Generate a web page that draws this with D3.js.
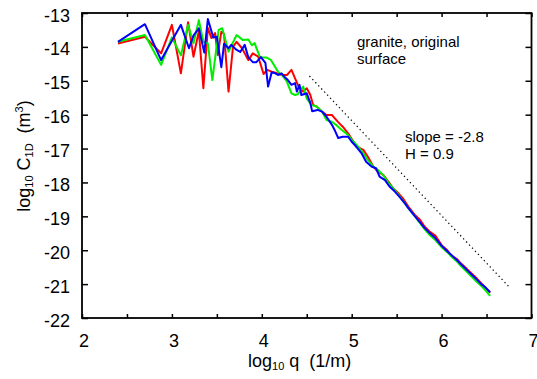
<!DOCTYPE html>
<html><head><meta charset="utf-8">
<script src="https://cdn.jsdelivr.net/npm/d3@7"></script>
<style>body{margin:0;background:#fff}svg{display:block;font-family:"Liberation Sans",Arial,sans-serif}text{white-space:pre}</style>
</head><body><svg id="c" width="537" height="379"></svg>
<script>
const xTicks = [2, 3, 4, 5, 6, 7];
const xMinorTicks = [2.5, 3.5, 4.5, 5.5, 6.5];
const yTicks = [-13, -14, -15, -16, -17, -18, -19, -20, -21, -22];

const red = [[2.40,-13.90],[2.70,-13.70],[2.88,-14.19],[3.00,-13.35],[3.10,-14.78],[3.18,-13.27],[3.24,-14.29],[3.30,-13.53],[3.35,-15.22],[3.40,-13.44],[3.44,-13.74],[3.48,-13.59],[3.51,-14.24],[3.55,-13.55],[3.58,-13.62],[3.60,-14.30],[3.63,-15.32],[3.68,-13.99],[3.72,-13.85],[3.78,-14.04],[3.85,-14.39],[3.90,-14.19],[3.96,-14.29],[4.02,-14.80],[4.06,-14.68],[4.11,-14.73],[4.17,-14.78],[4.22,-14.83],[4.28,-14.83],[4.33,-14.68],[4.37,-14.93],[4.41,-15.17],[4.46,-15.32],[4.50,-15.22],[4.54,-15.42],[4.57,-15.71],[4.61,-15.76],[4.67,-15.91],[4.72,-16.01],[4.78,-16.01],[4.81,-16.10],[4.85,-16.22],[4.89,-16.33],[4.90,-16.35],[4.96,-16.55],[5.02,-16.80],[5.05,-16.94],[5.09,-16.99],[5.13,-17.04],[5.18,-17.24],[5.24,-17.53],[5.29,-17.68],[5.35,-17.78],[5.41,-17.98],[5.46,-18.17],[5.52,-18.32],[5.57,-18.47],[5.63,-18.71],[5.70,-18.95],[5.76,-19.10],[5.81,-19.30],[5.87,-19.46],[5.93,-19.57],[6.00,-19.85],[6.06,-19.99],[6.10,-20.14],[6.17,-20.26],[6.21,-20.38],[6.28,-20.55],[6.33,-20.68],[6.39,-20.83],[6.44,-20.97],[6.48,-21.08],[6.54,-21.25]];

const green = [[2.40,-13.85],[2.70,-13.65],[2.88,-14.53],[3.00,-13.72],[3.10,-14.25],[3.18,-13.35],[3.24,-13.89],[3.30,-13.21],[3.35,-13.85],[3.40,-13.90],[3.45,-14.98],[3.52,-13.50],[3.56,-13.45],[3.63,-14.14],[3.72,-13.65],[3.79,-13.80],[3.85,-13.78],[3.89,-13.95],[3.92,-13.89],[3.98,-14.31],[4.05,-14.31],[4.10,-14.38],[4.18,-14.73],[4.24,-14.88],[4.28,-15.03],[4.33,-15.37],[4.37,-15.42],[4.40,-15.40],[4.46,-15.17],[4.50,-15.52],[4.55,-15.71],[4.61,-15.76],[4.67,-15.91],[4.72,-16.16],[4.78,-16.21],[4.83,-16.31],[4.89,-16.45],[4.96,-16.60],[5.02,-16.80],[5.07,-16.94],[5.13,-17.14],[5.18,-17.34],[5.24,-17.53],[5.29,-17.63],[5.35,-17.78],[5.41,-18.02],[5.46,-18.17],[5.52,-18.37],[5.59,-18.61],[5.63,-18.76],[5.70,-18.99],[5.76,-19.20],[5.81,-19.38],[5.87,-19.56],[5.93,-19.70],[6.00,-19.91],[6.06,-20.05],[6.10,-20.16],[6.17,-20.33],[6.21,-20.45],[6.28,-20.64],[6.33,-20.77],[6.39,-20.93],[6.44,-21.05],[6.48,-21.16],[6.54,-21.35]];

const blue = [[2.40,-13.85],[2.70,-13.33],[2.88,-14.39],[3.10,-13.35],[3.19,-14.04],[3.24,-13.67],[3.30,-13.45],[3.36,-14.17],[3.40,-13.18],[3.46,-13.72],[3.50,-13.70],[3.55,-14.60],[3.58,-13.91],[3.63,-14.04],[3.66,-13.94],[3.72,-14.09],[3.76,-14.15],[3.81,-13.94],[3.85,-14.31],[3.90,-14.45],[3.94,-14.45],[3.99,-14.30],[4.04,-14.47],[4.07,-15.17],[4.11,-14.75],[4.15,-14.78],[4.18,-14.83],[4.22,-14.78],[4.25,-14.88],[4.29,-14.98],[4.33,-15.12],[4.37,-15.07],[4.39,-15.32],[4.42,-15.12],[4.44,-15.42],[4.50,-15.37],[4.54,-15.66],[4.56,-15.90],[4.62,-15.86],[4.67,-15.91],[4.72,-16.06],[4.78,-16.30],[4.81,-16.45],[4.85,-16.69],[4.90,-16.65],[4.96,-16.65],[5.00,-16.80],[5.05,-16.94],[5.11,-17.14],[5.16,-17.39],[5.22,-17.53],[5.27,-17.58],[5.31,-17.83],[5.37,-17.93],[5.42,-18.12],[5.48,-18.27],[5.53,-18.42],[5.59,-18.61],[5.63,-18.76],[5.70,-18.99],[5.76,-19.18],[5.81,-19.34],[5.87,-19.50],[5.93,-19.64],[6.00,-19.87],[6.06,-20.02],[6.10,-20.12],[6.17,-20.29],[6.21,-20.40],[6.28,-20.58],[6.33,-20.71],[6.39,-20.86],[6.44,-21.00],[6.48,-21.08],[6.54,-21.24]];

const slopeLine = [[4.53,-14.86],[6.75,-21.08]];
const seriesColors = ["#ff0000", "#00ee00", "#0000ff"];

const svg = d3.select("#c");
const X0 = 82, X1 = 531.5, Y0 = 13, Y1 = 318;
const x = d3.scaleLinear().domain([2, 7]).range([X0, X1]);
const y = d3.scaleLinear().domain([-13, -22]).range([Y0, Y1]);

const line = d3.line().x(d => x(d[0])).y(d => y(d[1]));
const plot = svg.append("g");
[red, green, blue].forEach((s, i) => {
  plot.append("path").datum(s).attr("d", line).attr("fill", "none")
    .attr("stroke", seriesColors[i]).attr("stroke-width", 2).attr("stroke-linejoin", "round");
});
plot.append("path").datum(slopeLine).attr("d", line).attr("fill", "none")
  .attr("stroke", "#000").attr("stroke-width", 1.2).attr("stroke-dasharray", "1.3,3");

// axes (ticks inward)
const allX = xTicks.concat(xMinorTicks);
svg.append("g").attr("transform", `translate(0,${Y1})`)
  .call(d3.axisBottom(x).tickValues(allX).tickSize(-4).tickFormat(""))
  .call(g => g.select(".domain").remove());
svg.append("g").attr("transform", `translate(0,${Y0})`)
  .call(d3.axisTop(x).tickValues(allX).tickSize(-4).tickFormat(""))
  .call(g => g.select(".domain").remove());
svg.append("g").attr("transform", `translate(${X0},0)`)
  .call(d3.axisLeft(y).tickValues(yTicks).tickSize(-6).tickFormat(""))
  .call(g => g.select(".domain").remove());
svg.append("g").attr("transform", `translate(${X1},0)`)
  .call(d3.axisRight(y).tickValues(yTicks).tickSize(-6).tickFormat(""))
  .call(g => g.select(".domain").remove());
svg.selectAll(".tick line").attr("stroke", "#000").attr("stroke-width", 1.5);
svg.append("rect").attr("x", X0).attr("y", Y0).attr("width", X1 - X0).attr("height", Y1 - Y0)
  .attr("fill", "none").attr("stroke", "#000").attr("stroke-width", 1.8);

// tick labels
svg.append("g").selectAll("text").data(xTicks).join("text")
  .attr("x", d => x(d) + 2).attr("y", 346.5).attr("text-anchor", "middle")
  .attr("font-size", 18).text(d => d);
svg.append("g").selectAll("text").data(yTicks).join("text")
  .attr("x", 70).attr("y", d => y(d) + 8.5).attr("text-anchor", "end")
  .attr("font-size", 18).text(d => d);

// axis titles
const xt = svg.append("text").attr("x", 248).attr("y", 366.5).attr("font-size", 18);
xt.append("tspan").text("log");
xt.append("tspan").attr("font-size", 11).attr("dy", 3).text("10");
xt.append("tspan").attr("dy", -3).text(" q  (1/m)");

const yt = svg.append("text").attr("transform", "translate(30,156) rotate(-90)")
  .attr("text-anchor", "middle").attr("font-size", 18);
yt.append("tspan").text("log");
yt.append("tspan").attr("font-size", 11).attr("dy", 3).text("10");
yt.append("tspan").attr("dy", -3).text(" C");
yt.append("tspan").attr("font-size", 11).attr("dy", 3).text("1D");
yt.append("tspan").attr("dy", -3).text("  (m");
yt.append("tspan").attr("font-size", 11).attr("dy", -7).text("3");
yt.append("tspan").attr("dy", 7).text(")");

// annotations
const ann = [["granite, original", 357, 47], ["surface", 357, 63.5], ["slope = -2.8", 405, 142], ["H = 0.9", 405, 158.5]];
svg.append("g").selectAll("text").data(ann).join("text")
  .attr("x", d => d[1]).attr("y", d => d[2]).attr("font-size", 15).text(d => d[0]);
</script></body></html>
